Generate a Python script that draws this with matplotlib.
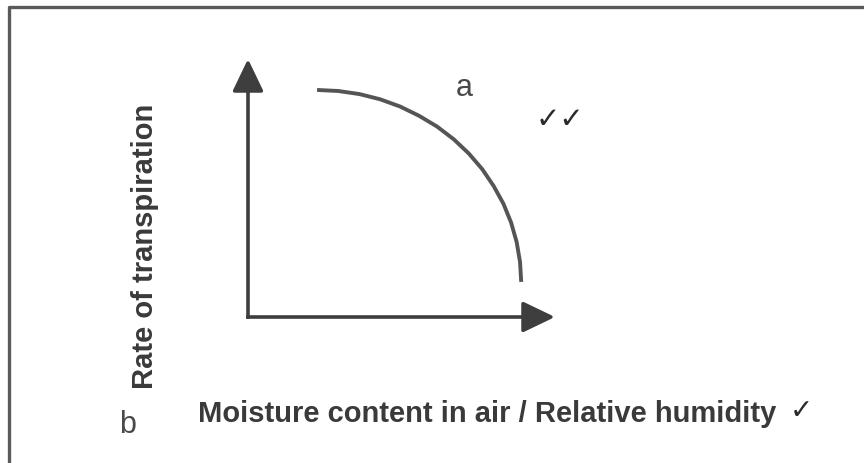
import matplotlib.pyplot as plt

# sketch graph: rate of transpiration vs relative humidity
humidity = [2.25, 2.94, 3.63, 4.30, 4.95, 5.57, 6.16, 6.70, 7.19, 7.63, 8.00, 8.32, 8.57, 8.75, 8.86, 8.90]
transpiration = [8.80, 8.76, 8.64, 8.44, 8.16, 7.80, 7.38, 6.89, 6.34, 5.73, 5.08, 4.39, 3.66, 2.91, 2.14, 1.36]

y_label = "Rate of transpiration"
x_label = "Moisture content in air / Relative humidity"
part_a = "a"
part_b = "b"
ticks_a = "\u2713\u2713"
tick_b = "\u2713"

W, H = 864, 464
fig = plt.figure(figsize=(W / 100, H / 100), dpi=100)
fig.patch.set_facecolor("white")

# overlay in pixel units for the box and the labels
bg = fig.add_axes([0, 0, 1, 1])
bg.set_xlim(0, W)
bg.set_ylim(H, 0)
bg.axis("off")
bg.plot([8.5, 8.5, W], [H, 7.5, 7.5], color="#5a5a5a", lw=2.4, solid_capstyle="butt")

# the graph itself
ax = fig.add_axes([248 / W, (H - 318) / H, 307 / W, 258 / H])
ax.set_xlim(0, 10)
ax.set_ylim(0, 10)
ax.axis("off")

arrow = dict(arrowstyle="-|>,head_length=1.0,head_width=0.48", mutation_scale=20,
             lw=2.6, color="#3e3e3e", shrinkA=0, shrinkB=0, capstyle="butt")
ax.annotate("", xy=(10, 0), xytext=(-0.06, 0), arrowprops=arrow, annotation_clip=False)
ax.annotate("", xy=(0, 10), xytext=(0, -0.07), arrowprops=arrow, annotation_clip=False)
ax.plot(humidity, transpiration, color="#555555", lw=2.8, solid_capstyle="butt")

sans = "Liberation Sans"
bg.text(145, 246.5, y_label, rotation=90, ha="center", va="center",
        fontsize=21, fontweight="bold", family=sans, color="#3a3a3a")
bg.text(198, 422, x_label, ha="left", va="baseline",
        fontsize=21, fontweight="bold", family=sans, color="#3a3a3a")
bg.text(790, 419, tick_b, ha="left", va="baseline", fontsize=20,
        family="DejaVu Sans", color="#2a2a2a")
bg.text(456, 96, part_a, ha="left", va="baseline", fontsize=22,
        family=sans, color="#4a4a4a")
bg.text(119, 433, part_b, ha="left", va="baseline", fontsize=22,
        family=sans, color="#4a4a4a")
bg.text(536, 128, ticks_a, ha="left", va="baseline", fontsize=21,
        family="DejaVu Sans", color="#2a2a2a")

fig.savefig("out.png", dpi=100, facecolor="white")
